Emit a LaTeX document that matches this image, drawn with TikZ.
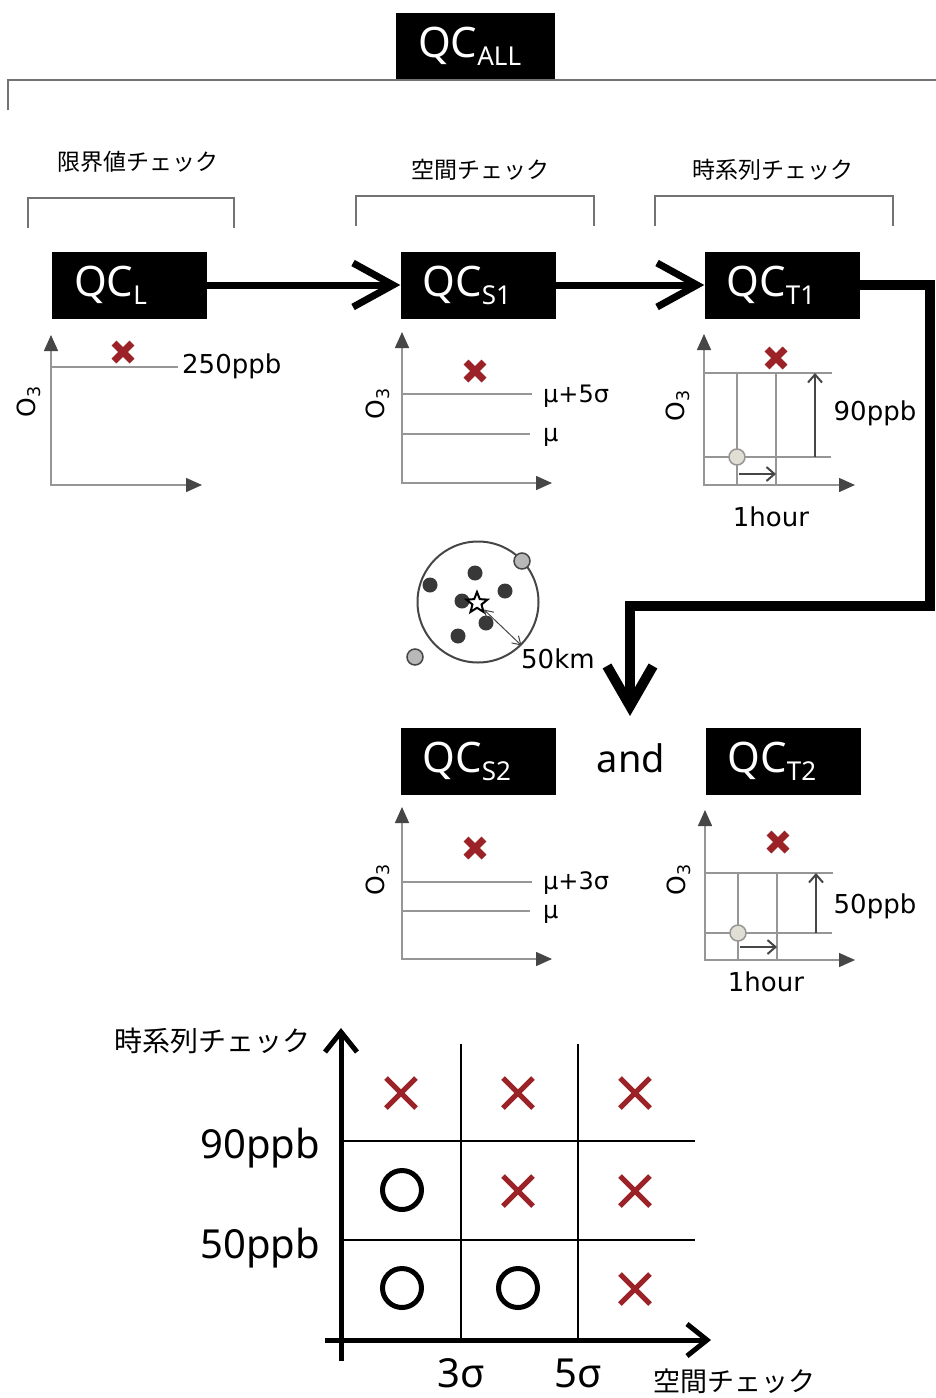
\documentclass[tikz,border=0pt]{standalone}
\usepackage{fontspec}
\setmainfont{Noto Sans}
\newfontfamily\jpfont{Noto Sans CJK JP}
\newfontfamily\dvfont{DejaVu Sans}
\usetikzlibrary{arrows.meta,shapes.geometric}
\definecolor{xred}{RGB}{155,35,40}
\definecolor{axgray}{RGB}{70,70,70}
\definecolor{lngray}{RGB}{150,150,150}
\definecolor{pastfill}{RGB}{225,222,212}
\newcommand{\qcsub}[1]{{\fontsize{26}{26}\selectfont\raisebox{-8pt}{#1}}}

\begin{document}
\begin{tikzpicture}[x=1pt, y=-1pt,
  qcbox/.style={fill=black, text=white, minimum height=67, inner xsep=22, inner ysep=0, text width=111, align=left, font=\fontsize{42}{42}\selectfont},
  catlabel/.style={font=\jpfont\fontsize{23}{23}\selectfont},
  bracket/.style={draw=black!55, line width=1.2},
  flow/.style={line width=7, -{Straight Barb[length=40pt,width=44pt]}},
  bigflow/.style={line width=10, -{Straight Barb[length=40pt,width=46pt]}},
  axis/.style={draw=lngray, line width=1.5, {Triangle[length=16pt,width=14pt,color=axgray]}-{Triangle[length=16pt,width=14pt,color=axgray]}},
  level/.style={draw=lngray, line width=1.2},
  gaparrow/.style={draw=axgray, line width=2, -{Straight Barb[length=8pt,width=14pt]}},
  val/.style={font=\dvfont\fontsize{26}{26}\selectfont, inner sep=1},
  sig/.style={font=\dvfont\fontsize{24}{24}\selectfont, inner sep=1, anchor=west},
  ylab/.style={rotate=90, font=\dvfont\fontsize{25}{25}\selectfont, inner sep=0},
  past/.style={circle, draw=lngray, fill=pastfill, line width=1.5, minimum size=16, inner sep=0},
  zone/.style={circle, draw=axgray, line width=2, minimum size=121, inner sep=0},
  outside/.style={circle, draw=axgray, fill=black!28, line width=1.5, minimum size=16, inner sep=0},
  starmark/.style={star, star points=5, star point ratio=2.3, draw=black, fill=white, line width=2, minimum size=22, inner sep=0},
  maxis/.style={line width=5, -{Straight Barb[length=20pt,width=32pt]}},
  grid/.style={draw=black, line width=2},
  mlabel/.style={font=\fontsize{40}{40}\selectfont, inner sep=0},
  redx/.pic={\draw[xred, line width=7] (-9,-9) -- (9,9) (-9,9) -- (9,-9);},
  bigx/.pic={\draw[xred, line width=5] (-15,-15) -- (15,15) (-15,15) -- (15,-15);}
]
\fill[white] (0,0) rectangle (936,1398);
\useasboundingbox (0,0) rectangle (936,1398);

\node[qcbox, text width=115] (qcall) at (475.5,46.5) {QC\qcsub{ALL}};
\draw[bracket] (8,110) |- (936,80);

\node[catlabel] (limit) at (138,162) {限界値チェック};
\node[catlabel] (space) at (480,170) {空間チェック};
\node[catlabel] (time) at (773,170) {時系列チェック};
\draw[bracket] (28,228) |- (234,198) -- (234,228);
\draw[bracket] (356,226) |- (594,196) -- (594,226);
\draw[bracket] (655,226) |- (893,196) -- (893,226);

\node[qcbox] (qcl) at (129.5,285) {QC\qcsub{L}};
\node[qcbox] (qcs1) at (478,285) {QC\qcsub{S1}};
\node[qcbox] (qct1) at (782,285) {QC\qcsub{T1}};
\node[qcbox] (qcs2) at (478,761.5) {QC\qcsub{S2}};
\node[qcbox] (qct2) at (783,761.5) {QC\qcsub{T2}};
\node[font=\fontsize{38}{38}\selectfont] (and) at (631,758) {and};

\draw[flow] (qcl.east) -- (qcs1.west);
\draw[flow] (qcs1.east) -- (qct1.west);
\coordinate (elbow) at (930,606);
\coordinate (drop) at (630,716);
\draw[bigflow] (qct1.east) -| (elbow) -| (drop);

% limit check
\draw[axis] (51,335) |- (202,485);
\draw[level] (51,367) -- (178,367);
\node[val, anchor=west] (l250) at (181,366) {250ppb};
\node[ylab] (ol) at (29,402) {O\textsubscript{3}};
\pic at (123,352) {redx};

% spatial checks
\draw[axis] (402,332) |- (552,483);
\draw[level] (402,394) -- (532,394);
\draw[level] (402,434) -- (530,434);
\node[sig] (s5) at (542,396) {μ+5σ};
\node[sig] (smu1) at (542,437) {μ};
\node[ylab] (os1) at (378,404) {O\textsubscript{3}};
\pic at (475,371) {redx};

\draw[axis] (402,807) |- (552,959);
\draw[level] (402,882) -- (532,882);
\draw[level] (402,911) -- (530,911);
\node[sig] (s3) at (542,883) {μ+3σ};
\node[sig] (smu2) at (542,914) {μ};
\node[ylab] (os2) at (378,880) {O\textsubscript{3}};
\pic at (475,848) {redx};

% time checks
\draw[axis] (704,334) |- (855,485);
\draw[level] (704,373) -- (832,373);
\draw[level] (704,457) -- (831,457);
\foreach \x in {737,776} \draw[level] (\x,373) -- (\x,485);
\draw[gaparrow] (739,474) -- (776,474);
\draw[gaparrow] (815,457) -- (815,373);
\node[past] (p1) at (737,457) {};
\node[val] (t90) at (875,413) {90ppb};
\node[val] (h1) at (771,517) {1hour};
\node[ylab] (ot1) at (678,406) {O\textsubscript{3}};
\pic at (776,358) {redx};

\draw[axis] (705,810) |- (855,960);
\draw[level] (705,873) -- (833,873);
\draw[level] (705,933) -- (832,933);
\foreach \x in {738,777} \draw[level] (\x,873) -- (\x,960);
\draw[gaparrow] (740,947) -- (777,947);
\draw[gaparrow] (816,933) -- (816,873);
\node[past] (p2) at (738,933) {};
\node[val] (t50) at (875,906) {50ppb};
\node[val] (h2) at (766,982) {1hour};
\node[ylab] (ot2) at (679,880) {O\textsubscript{3}};
\pic at (778,842) {redx};

% 50 km zone
\node[zone] (zone) at (478,602) {};
\foreach \x/\y in {430/585,475/573,505/591,462/601,486/623,458/636}
  \fill[black!78] (\x,\y) circle[radius=7.5pt];
\node[starmark] (site) at (477,603) {};
\node[outside] (o1) at (522,561) {};
\node[outside] (o2) at (415,657) {};
\draw[draw=axgray, line width=1, {Straight Barb[length=8pt,width=10pt]}-{Straight Barb[length=8pt,width=10pt]}] (site) -- (zone.-45);
\node[val, anchor=west] (km) at (520,659) {50km};

% decision matrix
\coordinate (vbase) at (341,1361);
\coordinate (vtop) at (341,1028);
\coordinate (hbase) at (325,1340);
\coordinate (hend) at (711,1340);
\foreach \x in {461,578} \draw[grid] (\x,1044) -- (\x,1340);
\foreach \y in {1141,1240} \draw[grid] (341,\y) -- (695,\y);
\draw[maxis] (vbase) -- (vtop);
\draw[maxis] (hbase) -- (hend);
\foreach \x/\y in {401/1093,518/1093,635/1093,518/1191,635/1191,635/1289}
  \pic at (\x,\y) {bigx};
\foreach \x/\y in {402/1190,402/1288,518/1288}
  \draw[line width=5] (\x,\y) circle[radius=19.5pt];
\node[font=\jpfont\fontsize{28}{28}\selectfont] (tlab) at (212,1041) {時系列チェック};
\node[font=\jpfont\fontsize{27}{27}\selectfont] (slab) at (734,1381) {空間チェック};
\node[mlabel, anchor=east] (m90) at (320,1148) {90ppb};
\node[mlabel, anchor=east] (m50) at (320,1248) {50ppb};
\node[mlabel] (m3) at (461,1373) {3σ};
\node[mlabel] (m5) at (578,1373) {5σ};
\end{tikzpicture}
\end{document}
